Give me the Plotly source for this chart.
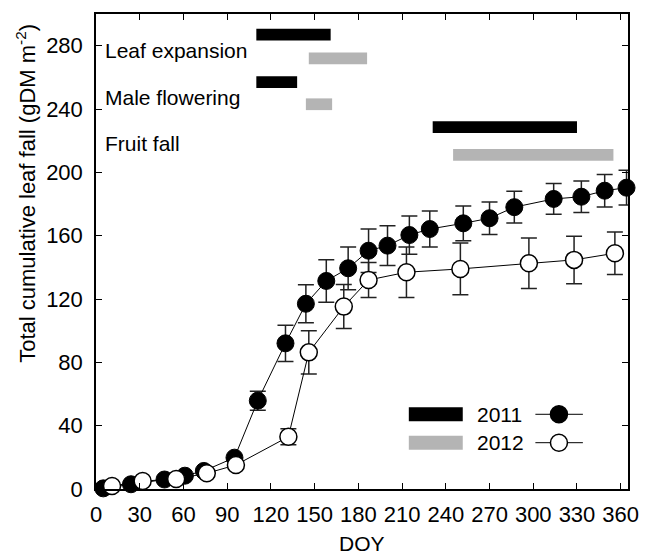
import plotly.graph_objects as go

# ---- data ----
doy_2011 = [5, 24, 47, 61, 74, 95, 111, 130, 144, 158, 173, 187, 200, 215, 229, 252, 270, 287, 314, 333, 349, 364]
leaf_2011 = [0.4, 3, 6, 8.4, 11.4, 19.8, 55.8, 92, 117, 131.4, 139.4, 150.5, 153.7, 160.4, 164.2, 167.8, 171, 178, 183.2, 184.6, 188.4, 190.3]
err_2011 = [0, 0, 0, 0, 0, 0, 6, 11.4, 12, 13.4, 13.5, 13.7, 12.6, 12.1, 11.4, 11, 10.3, 10, 9.7, 9.9, 10.3, 11]

doy_2012 = [11, 32, 55, 76, 96, 132, 146, 170, 187, 213, 250, 297, 328, 356]
leaf_2012 = [1.9, 5, 6.3, 9.9, 15.2, 33, 86.3, 115.2, 132, 136.9, 139, 142.6, 144.7, 148.9]
err_2012 = [0, 0, 0, 0, 0, 5, 13.6, 13.9, 11, 16, 16.3, 16, 15, 13.4]

phase_names = ["Leaf expansion", "Male flowering", "Fruit fall"]
phase_label_y = [277, 247.5, 218]
phase_start_2011 = [110, 110, 231]
phase_end_2011 = [161, 138, 330]
phase_y_2011 = [287, 257, 228.5]
phase_start_2012 = [146, 144, 245]
phase_end_2012 = [186, 162, 355]
phase_y_2012 = [272, 243, 211]

x_ticks = list(range(0, 361, 30))
y_ticks = list(range(0, 281, 40))
years = ["2011", "2012"]

FONT = "Liberation Sans, Arial, sans-serif"
GRAY = "#b4b4b4"
BAR_HALF = 3.7

fig = go.Figure()

fig.add_trace(go.Scatter(
    x=doy_2011, y=leaf_2011, mode="lines+markers",
    line=dict(color="black", width=1),
    marker=dict(size=17, color="black", line=dict(color="black", width=1)),
    error_y=dict(type="data", array=err_2011, visible=True, color="#222", thickness=1.5, width=8),
    cliponaxis=False, showlegend=False,
))
fig.add_trace(go.Scatter(
    x=doy_2012, y=leaf_2012, mode="lines+markers",
    line=dict(color="black", width=1),
    marker=dict(size=17, color="white", line=dict(color="black", width=1.5)),
    error_y=dict(type="data", array=err_2012, visible=True, color="#222", thickness=1.5, width=8),
    cliponaxis=False, showlegend=False,
))

shapes = []
for s, e, yc in zip(phase_start_2011, phase_end_2011, phase_y_2011):
    shapes.append(dict(type="rect", xref="x", yref="y", x0=s, x1=e, y0=yc - BAR_HALF, y1=yc + BAR_HALF,
                       fillcolor="black", line=dict(width=0), layer="above"))
for s, e, yc in zip(phase_start_2012, phase_end_2012, phase_y_2012):
    shapes.append(dict(type="rect", xref="x", yref="y", x0=s, x1=e, y0=yc - BAR_HALF, y1=yc + BAR_HALF,
                       fillcolor=GRAY, line=dict(width=0), layer="above"))

# legend (manual)
leg_rows = [(0.1573, "black", "black"), (0.0975, GRAY, "white")]
for (yc, barcol, mfill) in leg_rows:
    shapes.append(dict(type="rect", xref="paper", yref="paper", x0=0.588, x1=0.6894,
                       y0=yc - 0.0147, y1=yc + 0.0147, fillcolor=barcol, line=dict(width=0)))
    shapes.append(dict(type="line", xref="paper", yref="paper", x0=0.8259, x1=0.9152,
                       y0=yc, y1=yc, line=dict(color="black", width=1)))
    shapes.append(dict(type="circle", xref="paper", yref="paper", xsizemode="pixel", ysizemode="pixel",
                       xanchor=0.8702, yanchor=yc, x0=-8.5, x1=8.5, y0=-8.5, y1=8.5,
                       fillcolor=mfill, line=dict(color="black", width=1.5)))

annotations = []
for name, yl in zip(phase_names, phase_label_y):
    annotations.append(dict(x=5, y=yl, xref="x", yref="y", text=name, showarrow=False,
                            xanchor="left", yanchor="middle", font=dict(size=21, color="black", family=FONT)))
for (yc, _, _), yr in zip(leg_rows, years):
    annotations.append(dict(x=0.7128, y=yc, xref="paper", yref="paper", text=yr, showarrow=False,
                            xanchor="left", yanchor="middle", font=dict(size=21, color="black", family=FONT)))
annotations.append(dict(x=-0.132, y=0.623, xref="paper", yref="paper", textangle=-90,
                        text="Total cumulative leaf fall (gDM m<sup>-2</sup>)", showarrow=False,
                        xanchor="center", yanchor="middle", font=dict(size=22, color="black", family=FONT)))
annotations.append(dict(x=0.5, y=-0.1137, xref="paper", yref="paper", text="DOY", showarrow=False,
                        xanchor="center", yanchor="middle", font=dict(size=21, color="black", family=FONT)))

axis_common = dict(showline=True, linecolor="black", linewidth=1.5, mirror="ticks", ticks="inside",
                   ticklen=6, tickwidth=1.2, tickcolor="black", showgrid=False, zeroline=False,
                   tickfont=dict(size=22, color="black", family=FONT))

fig.update_layout(
    width=651, height=556,
    margin=dict(l=95.5, r=13.3, t=14, b=67),
    paper_bgcolor="white", plot_bgcolor="white",
    font=dict(family=FONT, color="black"),
    xaxis=dict(range=[0, 365], tickvals=x_ticks, ticklabelstandoff=5, **axis_common),
    yaxis=dict(range=[0, 300], tickvals=y_ticks, ticklabelstandoff=7, **axis_common),
    shapes=shapes, annotations=annotations,
)

fig.write_html("out.html")
